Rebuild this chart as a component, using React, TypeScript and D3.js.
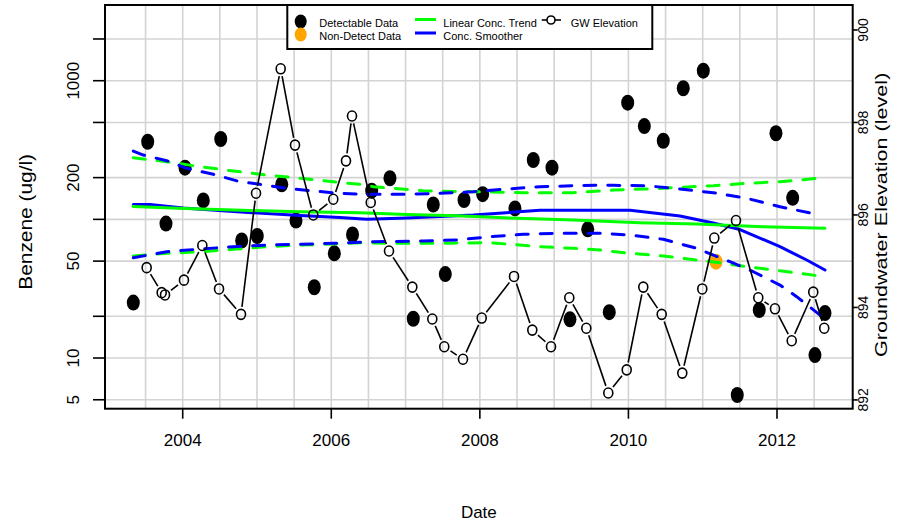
import React from "react";
import * as d3 from "d3";

// Dates are decimal years
const concDates = [2003.335, 2003.529, 2003.775, 2004.031, 2004.277, 2004.512, 2004.794, 2005.004, 2005.333, 2005.525, 2005.771, 2006.041, 2006.286, 2006.544, 2006.79, 2007.104, 2007.373, 2007.535, 2007.787, 2008.038, 2008.473, 2008.719, 2008.971, 2009.213, 2009.452, 2009.742, 2009.99, 2010.214, 2010.469, 2010.738, 2011.008, 2011.465, 2011.761, 2011.986, 2012.211, 2012.511, 2012.646];
const concValues = [25.1, 363, 93.3, 236, 137, 380, 70.4, 75.9, 179, 98.1, 32.4, 56.9, 77.8, 161, 198, 19.2, 128, 40.3, 138, 152, 120, 268, 236, 19.0, 84.8, 21.4, 694, 471, 369, 882, 1181, 5.41, 22.2, 418, 143, 10.5, 21.1];

const ndDates = [2011.179];
const ndValues = [49.5];

const gwDates = [2003.515, 2003.717, 2003.762, 2004.017, 2004.264, 2004.489, 2004.785, 2004.987, 2005.319, 2005.512, 2005.758, 2006.027, 2006.198, 2006.279, 2006.531, 2006.777, 2007.091, 2007.36, 2007.521, 2007.773, 2008.025, 2008.46, 2008.706, 2008.958, 2009.204, 2009.433, 2009.729, 2009.977, 2010.2, 2010.448, 2010.725, 2010.994, 2011.156, 2011.448, 2011.748, 2011.973, 2012.198, 2012.488, 2012.636];
const gwValues = [894.86, 894.32, 894.27, 894.59, 895.34, 894.4, 893.85, 896.47, 899.16, 897.51, 896.0, 896.34, 897.17, 898.14, 896.27, 895.22, 894.44, 893.75, 893.15, 892.88, 893.77, 894.67, 893.51, 893.15, 894.21, 893.55, 892.15, 892.65, 894.44, 893.85, 892.58, 894.4, 895.5, 895.88, 894.21, 893.97, 893.28, 894.33, 893.55];

const trendDates = [2003.331, 2004.031, 2004.906, 2005.579, 2006.387, 2007.015, 2007.688, 2008.496, 2009.258, 2010.156, 2010.919, 2011.811, 2012.646];
const trendValues = [123.8, 119.7, 115.8, 113.6, 111.7, 108.4, 106.2, 101.8, 98.9, 94.6, 92.6, 88.5, 86.2];

const trendUpperDates = [2003.335, 2003.785, 2004.233, 2004.681, 2005.131, 2005.579, 2006.027, 2006.387, 2006.566, 2007.239, 2007.912, 2008.585, 2009.258, 2009.796, 2010.246, 2010.694, 2011.142, 2011.592, 2012.04, 2012.646];
const trendUpperValues = [278.4, 260.5, 239.8, 223.2, 208.9, 197.8, 186.9, 178.9, 172, 160.9, 158.2, 155.6, 155.6, 162.8, 165.5, 170.2, 174.8, 182, 186.9, 199.7];

const trendLowerDates = [2003.335, 2003.785, 2004.233, 2004.681, 2005.131, 2005.579, 2006.027, 2006.387, 2006.79, 2007.463, 2008.137, 2008.361, 2008.809, 2009.258, 2009.617, 2010.021, 2010.469, 2010.919, 2011.232, 2011.592, 2012.04, 2012.646];
const trendLowerValues = [54.4, 56.9, 58.4, 60.8, 63.5, 65.3, 66.4, 67.9, 67.2, 67.2, 67.9, 66.4, 63.5, 61.8, 60.1, 56.9, 54.4, 50.9, 48.7, 45.6, 42.6, 38.6];

const smoothDates = [2003.335, 2003.56, 2004.008, 2004.681, 2005.579, 2006.117, 2006.477, 2007.015, 2007.912, 2008.809, 2009.617, 2010.021, 2010.694, 2011.142, 2011.501, 2012.04, 2012.4, 2012.646];
const smoothValues = [128, 128, 120.8, 113.9, 106.6, 103.1, 100.1, 102.3, 107.5, 116.2, 116.2, 116.2, 105.7, 94.1, 84.5, 63.5, 50.9, 43.1];

const smoothUpperDates = [2003.335, 2003.47, 2003.785, 2004.054, 2004.412, 2004.771, 2005.041, 2005.4, 2005.758, 2006.117, 2006.387, 2006.566, 2007.015, 2007.463, 2007.912, 2008.361, 2008.809, 2009.258, 2009.617, 2009.796, 2010.246, 2010.694, 2011.142, 2011.592, 2012.04, 2012.579];
const smoothUpperValues = [311, 291, 264.8, 233.5, 211.3, 186.9, 178.9, 167.5, 160.2, 154.1, 151.6, 151.6, 151.6, 154.1, 158.2, 165.5, 172, 174.8, 176.9, 176, 174.8, 165.5, 155.6, 141.8, 123.4, 107.5];

const smoothLowerDates = [2003.335, 2003.785, 2004.233, 2004.681, 2005.131, 2005.579, 2006.027, 2006.387, 2006.566, 2007.239, 2007.688, 2008.137, 2008.585, 2009.034, 2009.617, 2010.021, 2010.469, 2010.919, 2011.367, 2011.681, 2012.04, 2012.265, 2012.579];
const smoothLowerValues = [52.9, 58.4, 61.1, 63.5, 65.3, 66.1, 67.2, 68.3, 69.0, 69.8, 71.0, 75.0, 78.0, 79.3, 79.3, 77.1, 71.8, 61.8, 49.5, 41.9, 33.6, 27.7, 20.4];

const xTicks = [2004, 2006, 2008, 2010, 2012];
const xGrid = [2003.5, 2004, 2004.5, 2005, 2005.5, 2006, 2006.5, 2007, 2007.5, 2008, 2008.5, 2009, 2009.5, 2010, 2010.5, 2011, 2011.5, 2012, 2012.5];
const yTicks = [5, 10, 20, 50, 100, 200, 500, 1000, 2000];
const yLabelTicks = [5, 10, 50, 200, 1000];
const gwTicks = [892, 894, 896, 898, 900];

const FONT = "'Liberation Sans', Arial, Helvetica, sans-serif";

const L = 105, R = 852.7, T = 5, B = 408.7;

export default function App() {
  const x = d3.scaleLinear().domain([2002.954, 2013.019]).range([L, R]);
  const y = d3.scaleLog().domain([4.31, 3516]).range([B, T]);
  const yg = d3.scaleLinear().domain([891.81, 900.54]).range([B, T]);

  const mk = (ds: number[], vs: number[]) =>
    d3.line<number>().x((_, i) => x(ds[i])).y((v) => y(v))(vs) || "";

  // GW "type b" segments
  const gap = 7.5;
  const gwPts = gwDates.map((d, i) => [x(d), yg(gwValues[i])]);
  const segs: string[] = [];
  for (let i = 0; i < gwPts.length - 1; i++) {
    const [x1, y1] = gwPts[i];
    const [x2, y2] = gwPts[i + 1];
    const len = Math.hypot(x2 - x1, y2 - y1);
    if (len <= 2 * gap) continue;
    const ux = (x2 - x1) / len, uy = (y2 - y1) / len;
    segs.push(`M${x1 + ux * gap},${y1 + uy * gap}L${x2 - ux * gap},${y2 - uy * gap}`);
  }

  const dash = "12 12";

  return (
    <svg width={897} height={528} style={{ position: "absolute", left: 0, top: 0, background: "#fff" }} fontFamily={FONT}>
      <rect x={0} y={0} width={897} height={528} fill="#fff" />
      <g stroke="#d3d3d3" strokeWidth={1.6}>
        {xGrid.map((t) => <line key={"gx" + t} x1={x(t)} x2={x(t)} y1={T} y2={B} />)}
        {yTicks.map((v) => <line key={"gy" + v} x1={L} x2={R} y1={y(v)} y2={y(v)} />)}
      </g>

      {/* concentration points */}
      <g fill="#000">
        {concDates.map((d, i) => <ellipse key={"c" + i} cx={x(d)} cy={y(concValues[i])} rx={6.5} ry={8} />)}
      </g>
      <g fill="#FFA500">
        {ndDates.map((d, i) => <ellipse key={"n" + i} cx={x(d)} cy={y(ndValues[i])} rx={6.5} ry={8} />)}
      </g>

      {/* trend and smoother */}
      <g fill="none" strokeWidth={3} strokeLinecap="round" strokeLinejoin="round">
        <path d={mk(trendUpperDates, trendUpperValues)} stroke="#00FF00" strokeDasharray={dash} />
        <path d={mk(trendLowerDates, trendLowerValues)} stroke="#00FF00" strokeDasharray={dash} />
        <path d={mk(smoothUpperDates, smoothUpperValues)} stroke="#0000FF" strokeDasharray={dash} />
        <path d={mk(smoothLowerDates, smoothLowerValues)} stroke="#0000FF" strokeDasharray={dash} />
        <path d={mk(smoothDates, smoothValues)} stroke="#0000FF" />
        <path d={mk(trendDates, trendValues)} stroke="#00FF00" />
      </g>

      {/* GW elevation */}
      <g stroke="#000" strokeWidth={1.6} fill="none">
        {segs.map((s, i) => <path key={"s" + i} d={s} />)}
        {gwPts.map(([px, py], i) => <ellipse key={"g" + i} cx={px} cy={py} rx={4.5} ry={5} />)}
      </g>

      {/* frame */}
      <rect x={L} y={T} width={R - L} height={B - T} fill="none" stroke="#000" strokeWidth={2} />

      {/* x axis */}
      <g stroke="#000" strokeWidth={1.6}>
        {xTicks.map((t) => <line key={"xt" + t} x1={x(t)} x2={x(t)} y1={B} y2={B + 10} />)}
      </g>
      <g fontSize={17} textAnchor="middle" fill="#000">
        {xTicks.map((t) => <text key={"xl" + t} x={x(t)} y={446}>{t}</text>)}
      </g>
      <text x={(L + R) / 2} y={518} fontSize={17} textAnchor="middle">Date</text>

      {/* left axis */}
      <g stroke="#000" strokeWidth={1.6}>
        {yTicks.map((v) => <line key={"yt" + v} x1={L - 12} x2={L} y1={y(v)} y2={y(v)} />)}
      </g>
      <g fontSize={17} textAnchor="middle" fill="#000">
        {yLabelTicks.map((v) => (
          <text key={"yl" + v} transform={`translate(79,${y(v)}) rotate(-90)`}>{v}</text>
        ))}
      </g>
      <text transform={`translate(32,${(T + B) / 2 + 15}) rotate(-90) scale(1.1,0.95)`} fontSize={19} textAnchor="middle">Benzene (ug/l)</text>

      {/* right axis */}
      <g stroke="#000" strokeWidth={1.6}>
        {gwTicks.map((v) => <line key={"gt" + v} x1={R} x2={R + 5} y1={yg(v)} y2={yg(v)} />)}
      </g>
      <g fontSize={14} textAnchor="middle" fill="#000">
        {gwTicks.map((v) => (
          <text key={"gl" + v} transform={`translate(868,${yg(v)}) rotate(-90)`}>{v}</text>
        ))}
      </g>
      <text transform={`translate(887,${(T + B) / 2 + 8}) rotate(-90) scale(1.2,0.95)`} fontSize={18} textAnchor="middle">Groundwater Elevation (level)</text>

      {/* legend */}
      <rect x={287.3} y={5} width={365} height={44} fill="#fff" stroke="#000" strokeWidth={2} />
      <ellipse cx={300.7} cy={21.5} rx={6} ry={7} fill="#000" />
      <ellipse cx={300.7} cy={34.5} rx={6} ry={7} fill="#FFA500" />
      <line x1={415} x2={436} y1={19.5} y2={19.5} stroke="#00FF00" strokeWidth={3} />
      <line x1={415} x2={436} y1={33} y2={33} stroke="#0000FF" strokeWidth={3} />
      <line x1={541.7} x2={561} y1={20} y2={20} stroke="#000" strokeWidth={1.6} />
      <circle cx={551} cy={20} r={4} fill="#fff" stroke="#000" strokeWidth={1.6} />
      <g fontSize={11} fill="#000">
        <text x={319.3} y={26.5}>Detectable Data</text>
        <text x={319.3} y={40}>Non-Detect Data</text>
        <text x={443.3} y={26.5}>Linear Conc. Trend</text>
        <text x={443.3} y={40}>Conc. Smoother</text>
        <text x={570.7} y={26.5}>GW Elevation</text>
      </g>
    </svg>
  );
}
